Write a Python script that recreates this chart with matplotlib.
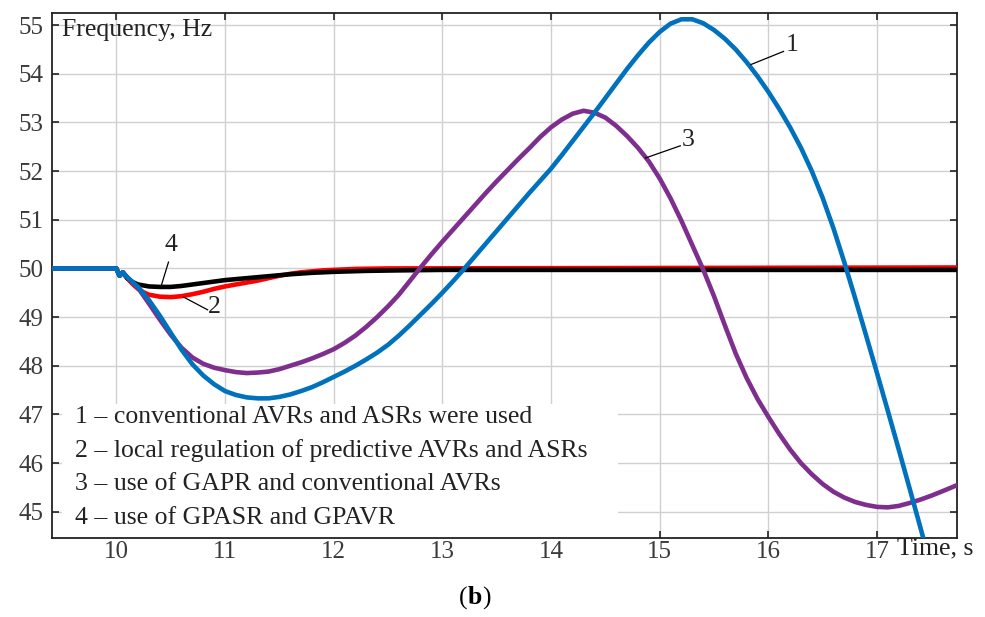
import numpy as np
import matplotlib.pyplot as plt
from matplotlib.patches import Rectangle

# ---------------------------------------------------------------------
#   frequency response, time in s, frequency in Hz
#   1 - blue, 2 - red, 3 - purple, 4 - black
# ---------------------------------------------------------------------
blue_t = [9.41, 10.0, 10.03, 10.06, 10.1, 10.2, 10.3, 10.4, 10.5, 10.6, 10.7, 10.8, 10.9,
          11.0, 11.1, 11.2, 11.3, 11.4, 11.5, 11.6, 11.7, 11.8, 11.9, 12.0, 12.1, 12.2,
          12.3, 12.4, 12.5, 12.6, 12.7, 12.8, 12.9, 13.0, 13.1, 13.2, 13.3, 13.4, 13.5,
          13.6, 13.7, 13.8, 13.9, 14.0, 14.1, 14.2, 14.3, 14.4, 14.5, 14.6, 14.7, 14.8,
          14.9, 15.0, 15.1, 15.2, 15.3, 15.4, 15.5, 15.6, 15.7, 15.8, 15.9, 16.0, 16.1,
          16.2, 16.3, 16.4, 16.5, 16.6, 16.7, 16.8, 16.9, 17.0, 17.1, 17.2, 17.3, 17.4,
          17.5]
blue_f = [50.0, 50.0, 49.85, 49.92, 49.82, 49.62, 49.35, 49.03, 48.68, 48.33, 48.03, 47.8,
          47.62, 47.48, 47.4, 47.35, 47.33, 47.33, 47.36, 47.41, 47.48, 47.56, 47.66, 47.77,
          47.88, 48.0, 48.13, 48.27, 48.43, 48.62, 48.83, 49.05, 49.27, 49.5, 49.74, 49.99,
          50.25, 50.51, 50.77, 51.03, 51.29, 51.55, 51.8, 52.05, 52.33, 52.62, 52.91, 53.2,
          53.5, 53.8, 54.1, 54.38, 54.64, 54.86, 55.03, 55.12, 55.12, 55.04, 54.9, 54.72,
          54.5, 54.24, 53.95, 53.63, 53.28, 52.9, 52.48, 52.0, 51.45, 50.82, 50.12, 49.38,
          48.62, 47.85, 47.07, 46.28, 45.48, 44.67, 43.85]

red_t = [9.41, 10.0, 10.03, 10.06, 10.1, 10.15, 10.2, 10.25, 10.3, 10.4, 10.5, 10.6, 10.7,
         10.8, 10.9, 11.0, 11.1, 11.2, 11.3, 11.4, 11.5, 11.6, 11.7, 11.8, 11.9, 12.0,
         12.2, 12.5, 17.74]
red_f = [50.0, 50.0, 49.85, 49.92, 49.8, 49.68, 49.58, 49.51, 49.46, 49.42, 49.41, 49.43,
         49.47, 49.52, 49.58, 49.63, 49.67, 49.71, 49.75, 49.8, 49.85, 49.89, 49.92, 49.94,
         49.96, 49.97, 49.99, 50.0, 50.02]

purple_t = [9.41, 10.0, 10.03, 10.06, 10.1, 10.2, 10.3, 10.4, 10.5, 10.6, 10.7, 10.8, 10.9,
            11.0, 11.1, 11.2, 11.3, 11.4, 11.5, 11.6, 11.7, 11.8, 11.9, 12.0, 12.1, 12.2,
            12.3, 12.4, 12.5, 12.6, 12.7, 12.8, 12.9, 13.0, 13.1, 13.2, 13.3, 13.4, 13.5,
            13.6, 13.7, 13.8, 13.9, 14.0, 14.1, 14.2, 14.3, 14.4, 14.5, 14.6, 14.7, 14.8,
            14.9, 15.0, 15.1, 15.2, 15.3, 15.4, 15.5, 15.6, 15.7, 15.8, 15.9, 16.0, 16.1,
            16.2, 16.3, 16.4, 16.5, 16.6, 16.7, 16.8, 16.9, 17.0, 17.1, 17.2, 17.3, 17.4,
            17.5, 17.6, 17.74]
purple_f = [50.0, 50.0, 49.85, 49.92, 49.82, 49.6, 49.28, 48.95, 48.64, 48.37, 48.17, 48.04,
            47.96, 47.91, 47.87, 47.85, 47.86, 47.88, 47.93, 48.0, 48.07, 48.15, 48.24, 48.34,
            48.47, 48.62, 48.8, 49.0, 49.22, 49.46, 49.74, 50.02, 50.29, 50.55, 50.8, 51.05,
            51.3, 51.55, 51.79, 52.02, 52.25, 52.47, 52.7, 52.9, 53.06, 53.18, 53.24, 53.2,
            53.1, 52.93, 52.72, 52.48, 52.2, 51.85, 51.44, 50.98, 50.48, 49.98, 49.43, 48.83,
            48.25, 47.75, 47.32, 46.95, 46.6, 46.28, 46.0, 45.77, 45.57, 45.41, 45.29, 45.2,
            45.14, 45.1, 45.09, 45.12, 45.18, 45.25, 45.33, 45.42, 45.55]

black_t = [9.41, 10.0, 10.03, 10.06, 10.1, 10.15, 10.2, 10.3, 10.4, 10.5, 10.6, 10.7, 10.8,
           10.9, 11.0, 11.2, 11.4, 11.6, 11.8, 12.0, 12.3, 12.6, 13.0, 17.74]
black_f = [50.0, 50.0, 49.85, 49.92, 49.8, 49.72, 49.67, 49.63, 49.62, 49.62, 49.64, 49.67,
           49.7, 49.73, 49.76, 49.8, 49.84, 49.88, 49.91, 49.93, 49.95, 49.96, 49.97, 49.97]

legend_lines = ['1 \u2013 conventional AVRs and ASRs were used',
                '2 \u2013 local regulation of predictive AVRs and ASRs',
                '3 \u2013 use of GAPR and conventional AVRs',
                '4 \u2013 use of GPASR and GPAVR']

x_ticks = [10, 11, 12, 13, 14, 15, 16, 17]
y_ticks = [45, 46, 47, 48, 49, 50, 51, 52, 53, 54, 55]

# curve number: (point on curve, end of leader, label position)
callouts = {'1': ((15.84, 54.19), (16.14, 54.46), (16.22, 54.6)),
            '3': ((14.87, 52.27), (15.19, 52.52), (15.26, 52.64)),
            '4': ((10.41, 49.62), (10.48, 50.13), (10.5, 50.48)),
            '2': ((10.62, 49.41), (10.84, 49.15), (10.9, 49.2))}

serif = 'Liberation Serif'
fs = 18.5

fig = plt.figure(figsize=(9.85, 6.17), dpi=100)
ax = fig.add_axes([0.053, 0.128, 0.919, 0.851])

lw = 3.3
ax.plot(red_t, red_f, color='#ff0000', lw=lw, zorder=3)
ax.plot(black_t, black_f, color='black', lw=lw, zorder=4)
ax.plot(purple_t, purple_f, color='#7e2f8e', lw=lw, zorder=5)
ax.plot(blue_t, blue_f, color='#0072bd', lw=lw, zorder=6)

ax.set_xlim(9.41, 17.74)
ax.set_ylim(44.46, 55.25)
ax.set_xticks(x_ticks)
ax.set_yticks(y_ticks)
ax.grid(True, color='#d0d0d0', lw=1.0, zorder=0)
ax.set_axisbelow(True)

ax.tick_params(direction='in', length=5, width=1.2, color='#222222',
               top=True, right=True, labelsize=18, labelcolor='#3a3a3a')
ax.tick_params(axis='x', pad=2)
ax.tick_params(axis='y', pad=6)
for lab in ax.get_xticklabels() + ax.get_yticklabels():
    lab.set_family(serif)
for sp in ax.spines.values():
    sp.set_color('#222222')
    sp.set_linewidth(1.3)

# white panel under the curve descriptions
ax.add_patch(Rectangle((9.5, 44.47), 5.12, 2.74, facecolor='white',
                       edgecolor='none', zorder=1))
for i, line in enumerate(legend_lines):
    ax.text(0.025, 0.2305 - i * 0.0642, line, transform=ax.transAxes, family=serif,
            fontsize=fs, color='#222222', va='center', ha='left', zorder=2)

for num, (p0, p1, pt) in callouts.items():
    ax.plot([p0[0], p1[0]], [p0[1], p1[1]], color='black', lw=0.9, zorder=7)
    ax.text(pt[0], pt[1], num, family=serif, fontsize=fs, color='#222222',
            ha='center', va='center', zorder=7)

ax.text(0.011, 0.968, 'Frequency, Hz', transform=ax.transAxes, family=serif,
        fontsize=fs, color='#222222', ha='left', va='center', zorder=8)

fig.text(0.911, 1 - 548 / 617, 'Time, s', family=serif, fontsize=fs,
         color='#222222', ha='left', va='center')

yb = 1 - 598 / 617
fig.text(0.4745, yb, '(', family=serif, fontsize=fs, ha='right', va='center')
fig.text(0.4745, yb, 'b', family=serif, fontsize=fs, weight='bold', ha='left', va='center')
fig.text(0.4895, yb, ')', family=serif, fontsize=fs, ha='left', va='center')

fig.savefig('out.png', dpi=100)
